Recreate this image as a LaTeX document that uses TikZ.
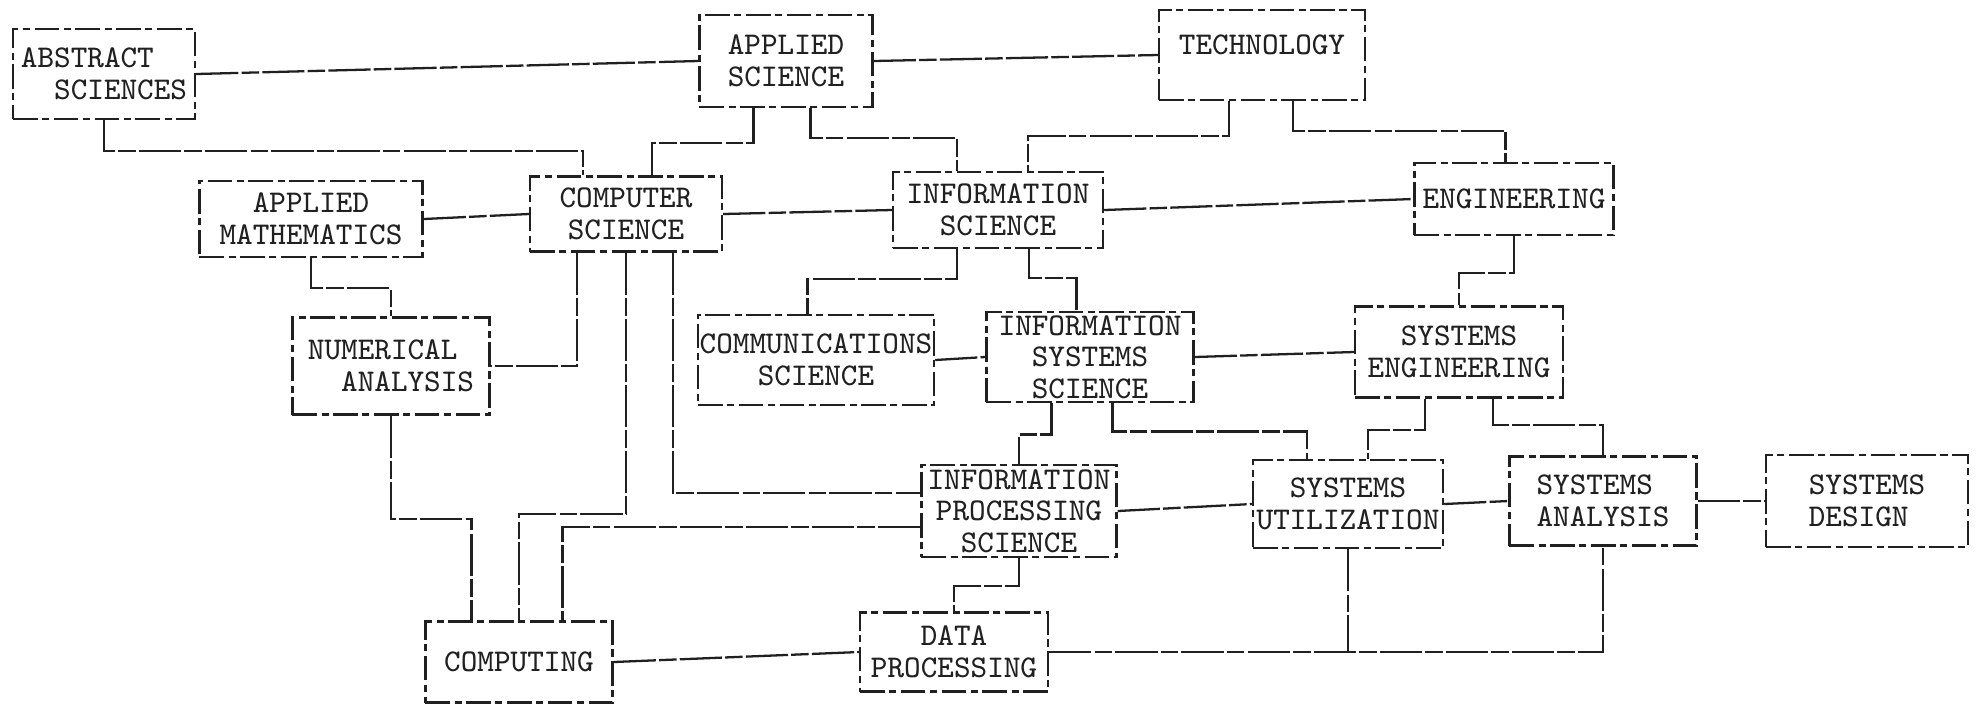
\documentclass[tikz,border=0pt]{standalone}
\usetikzlibrary{positioning,calc}
\definecolor{ink}{RGB}{32,32,32}
\tikzset{
  box/.style={draw=ink,line width=0.65pt,dash pattern=on 7pt off 1.3pt on 2pt off 1.3pt,
    inner xsep=0.5pt,inner ysep=1pt,align=center,text=ink,
    font=\fontsize{9}{9}\selectfont\ttfamily},
  link/.style={draw=ink,line width=0.65pt,dash pattern=on 12pt off 0.9pt on 5pt off 0.9pt},
}

\begin{document}
\begin{tikzpicture}[x=0.01cm,y=-0.01cm]
    \useasboundingbox (0,0) rectangle (1980,708);
    % sciences
    \node[box,minimum width=18.2mm,minimum height=9mm,align=left] (abs) at (104,74) {ABSTRACT\\\phantom{AB}SCIENCES};
    \node[box,minimum width=17.3mm,minimum height=9.2mm] (as) at (786,61) {APPLIED\\SCIENCE};
    \node[box,minimum width=20.6mm,minimum height=9mm,text depth=2mm] (tech) at (1262,55) {TECHNOLOGY};
    \node[box,minimum width=22.3mm,minimum height=7.6mm] (am) at (311,219) {APPLIED\\MATHEMATICS};
    \node[box,minimum width=19.2mm,minimum height=7.5mm] (cs) at (626,214) {COMPUTER\\SCIENCE};
    \node[box,minimum width=21mm,minimum height=7.6mm] (is) at (998,210) {INFORMATION\\SCIENCE};
    \node[box,minimum width=19.9mm,minimum height=7.2mm] (eng) at (1514,199) {ENGINEERING};
    \node[box,minimum width=19.7mm,minimum height=9.7mm,align=left] (num) at (391,366) {NUMERICAL\\\phantom{AB}ANALYSIS};
    \node[box,minimum width=23.3mm,minimum height=9mm] (comm) at (816,360) {COMMUNICATIONS\\SCIENCE};
    \node[box,minimum width=20.7mm,minimum height=8.9mm] (iss) at (1090,357) {INFORMATION\\SYSTEMS\\SCIENCE};
    \node[box,minimum width=20.8mm,minimum height=9.1mm] (se) at (1459,352) {SYSTEMS\\ENGINEERING};
    \node[box,minimum width=19.5mm,minimum height=9.2mm] (ips) at (1019,511) {INFORMATION\\PROCESSING\\SCIENCE};
    \node[box,minimum width=19mm,minimum height=8.8mm] (su) at (1348,504) {SYSTEMS\\UTILIZATION};
    \node[box,minimum width=18.7mm,minimum height=8.9mm,align=left] (sa) at (1603,501) {SYSTEMS\\ANALYSIS};
    \node[box,minimum width=20.2mm,minimum height=9.2mm,align=left] (sd) at (1867,501) {SYSTEMS\\DESIGN};
    \node[box,minimum width=18.7mm,minimum height=8.1mm] (comp) at (519,662) {COMPUTING};
    \node[box,minimum width=18.8mm,minimum height=7.9mm] (dp) at (954,652) {DATA\\PROCESSING};
    % side by side
    \draw[link] (abs.east) -- (as.west);
    \draw[link] (as.east) -- (tech.west);
    \draw[link] (am.east) -- (cs.west);
    \draw[link] (cs.east) -- (is.west);
    \draw[link] (is.east) -- (eng.west);
    \draw[link] (comm.east) -- (iss.west);
    \draw[link] (iss.east) -- (se.west);
    \draw[link] (ips.east) -- (su.west);
    \draw[link] (su.east) -- (sa.west);
    \draw[link] (sa.east) -- (sd.west);
    \draw[link] (comp.east) -- (dp.west);
    % from above
    \draw[link] (abs.south) -- ++(0,31) -| ([xshift=-4.3mm]cs.north);
    \draw[link] ([xshift=-3.25mm]as.south) -- ++(0,35) -| ([xshift=2.6mm]cs.north);
    \draw[link] ([xshift=2.45mm]as.south) -- ++(0,30) -| ([xshift=-4.1mm]is.north);
    \draw[link] ([xshift=-3.3mm]tech.south) -- ++(0,35) -| ([xshift=3mm]is.north);
    \draw[link] ([xshift=3.1mm]tech.south) -- ++(0,30) -| ([xshift=-0.85mm]eng.north);
    \draw[link] (am.south) -- ++(0,30) -| (num.north);
    \draw[link] ([xshift=-4.9mm]cs.south) |- (num.east);
    \draw[link] (cs.south) -- ++(0,261) -| (comp.north);
    \draw[link] ([xshift=4.7mm]cs.south) |- ([yshift=1.8mm]ips.west);
    \draw[link] (num.south) -- ++(0,103) -| ([xshift=-4.75mm]comp.north);
    \draw[link] ([yshift=-1.6mm]ips.west) -| ([xshift=4.35mm]comp.north);
    \draw[link] ([xshift=-4.1mm]is.south) -- ++(0,30) -| ([xshift=-0.85mm]comm.north);
    \draw[link] ([xshift=3.1mm]is.south) -- ++(0,29) -| ([xshift=-1.35mm]iss.north);
    \draw[link] (eng.south) -- ++(0,37) -| (se.north);
    \draw[link] ([xshift=-3.85mm]iss.south) -- ++(0,31) -| (ips.north);
    \draw[link] ([xshift=2.25mm]iss.south) -- ++(0,28) -| ([xshift=-4.1mm]su.north);
    \draw[link] ([xshift=-3.4mm]se.south) -- ++(0,31) -| ([xshift=2mm]su.north);
    \draw[link] ([xshift=3.4mm]se.south) -- ++(0,26) -| (sa.north);
    \draw[link] (ips.south) -- ++(0,28) -| (dp.north);
    % bottom run
    \draw[link] (dp.east) -| (sa.south);
    \draw[link] (su.south) -- (su.south |- dp.east);
\end{tikzpicture}
\end{document}
